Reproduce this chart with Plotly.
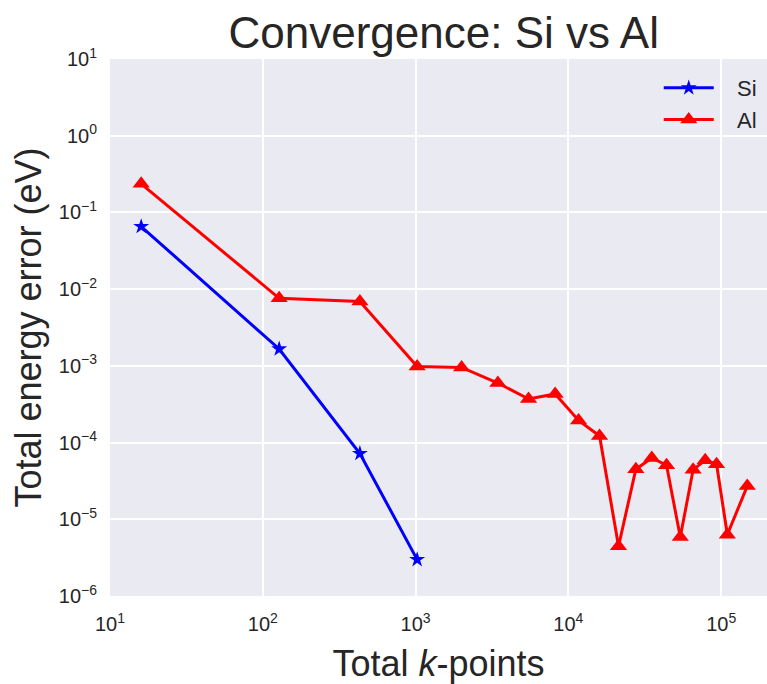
import plotly.graph_objects as go

# total k-points (2 n^3 meshes) and total-energy error (eV)
si_kpts = [16, 128, 432, 1024]
si_err = [0.0655, 1.66e-3, 7.2e-5, 2.98e-6]

al_kpts = [16, 128, 432, 1024, 2000, 3456, 5488, 8192, 11664, 16000,
           21296, 27648, 35152, 43904, 54000, 65536, 78608, 93312, 109744, 148176]
al_err = [0.236, 7.6e-3, 6.9e-3, 9.8e-4, 9.55e-4, 5.97e-4, 3.7e-4, 4.3e-4, 1.94e-4, 1.22e-4,
          4.45e-6, 4.5e-5, 6.3e-5, 5.07e-5, 5.86e-6, 4.42e-5, 5.9e-5, 5.23e-5, 6.3e-6, 2.71e-5]

x_ticks = [1e1, 1e2, 1e3, 1e4, 1e5]
x_labels = ["10<sup>1</sup>", "10<sup>2</sup>", "10<sup>3</sup>", "10<sup>4</sup>", "10<sup>5</sup>"]
y_ticks = [1e1, 1e0, 1e-1, 1e-2, 1e-3, 1e-4, 1e-5, 1e-6]
y_labels = ["10<sup>1</sup>", "10<sup>0</sup>", "10<sup>−1</sup>", "10<sup>−2</sup>",
            "10<sup>−3</sup>", "10<sup>−4</sup>", "10<sup>−5</sup>", "10<sup>−6</sup>"]

pad = "\u00a0\u00a0\u00a0"  # gap between legend line and label

fig = go.Figure()
fig.add_trace(go.Scatter(
    x=si_kpts, y=si_err, name=pad + "Si", mode="lines+markers",
    line=dict(color="blue", width=3),
    marker=dict(symbol="star", size=12, color="blue"),
))
fig.add_trace(go.Scatter(
    x=al_kpts, y=al_err, name=pad + "Al", mode="lines+markers",
    line=dict(color="red", width=3),
    marker=dict(symbol="triangle-up", size=15, color="red"),
))

fig.update_layout(
    width=767, height=684,
    margin=dict(l=110, r=0, t=59, b=88),
    paper_bgcolor="white",
    plot_bgcolor="#EAEAF2",
    font=dict(family="Liberation Sans, Arial, sans-serif", color="#262626"),
    title=dict(text="Convergence: Si vs Al", x=0.508, xref="paper", xanchor="center",
               y=0.952, yref="container", yanchor="middle", font=dict(size=44, color="#262626")),
    showlegend=True,
    legend=dict(x=0.992, y=0.985, xanchor="right", yanchor="top",
                bgcolor="rgba(0,0,0,0)", font=dict(size=22), itemwidth=50,
                tracegroupgap=0),
)
fig.update_xaxes(
    type="log", range=[1, 5.3],
    tickvals=x_ticks, ticktext=x_labels, tickfont=dict(size=20),
    showgrid=True, gridcolor="white", gridwidth=1.6,
    zeroline=False, showline=False, ticks="", ticklabelstandoff=14,
    title=dict(text="Total <i>k</i>-points", font=dict(size=36), standoff=16),
)
fig.update_yaxes(
    type="log", range=[-6, 1],
    tickvals=y_ticks, ticktext=y_labels, tickfont=dict(size=20),
    showgrid=True, gridcolor="white", gridwidth=1.6,
    zeroline=False, showline=False, ticks="", ticklabelstandoff=12,
    title=dict(text="Total energy error (eV)", font=dict(size=36), standoff=6),
)

fig.write_html("out.html", config={"displayModeBar": False},
               post_script="document.body.style.margin='0';")
